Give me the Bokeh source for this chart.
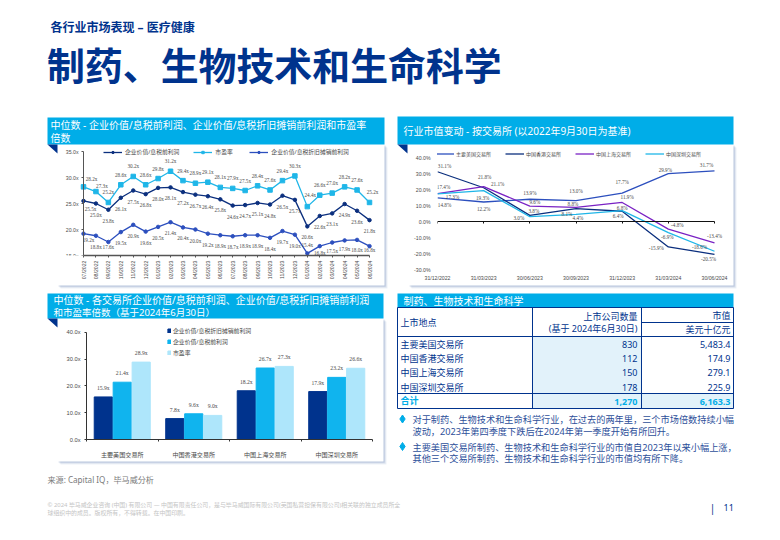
import math
from bokeh.core.properties import value
from bokeh.embed import file_html
from bokeh.resources import INLINE
from bokeh.layouts import column
from bokeh.models import (ColumnDataSource, FixedTicker, LabelSet, Legend, LegendItem,
                          LinearAxis, PrintfTickFormatter, Range1d)
from bokeh.plotting import figure

# ---------- data ----------
months = ["07/2022","08/2022","09/2022","10/2022","11/2022","12/2022","01/2023","02/2023","03/2023","04/2023","05/2023","06/2023",
          "07/2023","08/2023","09/2023","10/2023","11/2023","12/2023","01/2024","02/2024","03/2024","04/2024","05/2024","06/2024"]
pe_ratio = [28.2,27.3,25.2,28.6,30.2,28.6,29.8,31.2,29.4,28.9,29.1,28.1,27.9,27.5,28.4,27.6,29.4,30.3,24.4,26.6,27.0,28.2,27.6,25.2]
ev_ebit = [25.5,25.0,23.8,26.1,27.5,26.8,28.0,28.1,27.2,26.7,26.4,25.8,24.6,24.7,25.1,24.8,26.5,25.7,20.6,22.6,23.1,24.9,23.6,21.8]
ev_ebitda = [19.2,18.8,17.6,19.5,20.9,19.6,20.5,21.4,20.4,20.0,19.2,18.9,18.7,18.9,18.9,18.4,19.7,19.0,15.4,16.8,17.5,17.9,18.0,16.8]

quarters = ["31/12/2022","31/03/2023","30/06/2023","30/09/2023","31/12/2023","31/03/2024","30/06/2024"]
mv_us = [14.8,12.2,13.9,13.0,17.7,29.9,31.7]
mv_hk = [31.1,21.1,3.8,8.1,6.4,-15.9,-20.5]
mv_sh = [17.4,21.8,9.6,8.8,11.9,-4.8,-13.4]
mv_sz = [17.3,19.3,3.0,4.4,6.8,-6.9,-18.6]

exchanges = ["主要美国交易所","中国香港交易所","中国上海交易所","中国深圳交易所"]
ex_ebitda = [15.9,7.8,18.2,17.9]
ex_ebit = [21.4,9.6,26.7,23.2]
ex_pe = [28.9,9.0,27.3,26.6]

listed_count = ["830","112","150","178"]
market_cap = ["5,483.4","174.9","279.1","225.9"]
total_row = ["合计","1,270","6,163.3"]

NAME_EBITDA = "企业价值/息税折旧摊销前利润"
NAME_EBIT = "企业价值/息税前利润"
NAME_PE = "市盈率"

# ---------- styles ----------
CJK = "Noto Sans, Noto Sans CJK SC"
LAT = "Liberation Sans"
NAVY = "#00338D"
CYAN = "#00ADE8"
LIGHT = "#ABE4FA"
BLUE = "#2C4FBE"
PURPLE = "#7A22C4"
TXT = "#4A4A4A"

# ---------- background page, in reference pixels ----------
bg = figure(width=764, height=524, x_range=Range1d(0, 764), y_range=Range1d(524, 0),
            output_backend="svg", toolbar_location=None, min_border=0, outline_line_color=None,
            frame_align=False)
bg.axis.visible = False
bg.grid.visible = False


def txt(x, y, s, size, color=NAVY, align="left", bold=False, font=CJK):
    bg.text([x], [y], text=[s], text_font=value(font), text_font_size=f"{size}px", text_color=color,
            text_align=align, text_baseline="middle", text_font_style="bold" if bold else "normal")


def card(l, t, r, b):
    for off, a in ((3, .10), (2, .16), (1, .24)):
        bg.quad(left=[l + off], right=[r + off], top=[t + off], bottom=[b + off],
                fill_color="#5C7AAE", fill_alpha=a, line_color=None)
    bg.quad(left=[l], right=[r], top=[t], bottom=[b], fill_color="white", line_color=None)


def header(l, t, r, b, fold=True):
    bg.quad(left=[l], right=[r], top=[t], bottom=[b], fill_color=CYAN, line_color=None)
    if fold:
        bg.patch([l, l + 10, l + 10], [b, b, b + 9], fill_color=NAVY, line_color=None)


txt(50, 27, "各行业市场表现 – 医疗健康", 12, bold=True)
txt(46.5, 64.5, "制药、生物技术和生命科学", 37.9, bold=True)

card(57, 144, 384, 285)
header(47, 117, 384, 144)
txt(50, 124.5, "中位数 - 企业价值/息税前利润、企业价值/息税折旧摊销前利润和市盈率", 10, "white", bold=False)
txt(50, 137, "倍数", 10, "white")

card(408, 144, 733, 285)
header(397, 116, 733, 144)
txt(403, 130, "行业市值变动 - 按交易所 (以2022年9月30日为基准)", 10, "white")

card(57, 318, 383, 461)
header(47, 293, 383, 318)
txt(53, 299.5, "中位数 - 各交易所企业价值/息税前利润、企业价值/息税折旧摊销前利润", 10, "white")
txt(53, 311.5, "和市盈率倍数（基于2024年6月30日）", 9.5, "white")

# table
header(397, 293, 733, 307, fold=False)
txt(403, 300, "制药、生物技术和生命科学", 10, "white")
bg.quad(left=[532], right=[641], top=[336], bottom=[393], fill_color="#E2F2FA", line_color=None)
bg.quad(left=[532], right=[733], top=[393], bottom=[408], fill_color="#E2F2FA", line_color=None)
bg.multi_line([[397, 733, 733, 397, 397], [532, 532], [641, 641], [641, 733], [397, 733], [397, 733]],
              [[307, 307, 408, 408, 307], [307, 408], [307, 408], [322, 322], [336, 336], [393, 393]],
              line_color=NAVY, line_width=1)
txt(400, 322, "上市地点", 9)
txt(637, 316, "上市公司数量", 9, align="right")
txt(637, 328, "(基于 2024年6月30日)", 9, align="right")
txt(730, 315, "市值", 9, align="right")
txt(730, 329, "美元十亿元", 9, align="right")
for i, (name, n, cap) in enumerate(zip(exchanges, listed_count, market_cap)):
    yy = 344 + i * 14.2
    txt(400, yy, name, 9)
    txt(637, yy, n, 9, align="right")
    txt(730, yy, cap, 9, align="right")
txt(400, 400, total_row[0], 9, CYAN, bold=True)
txt(637, 401, total_row[1], 9, CYAN, "right", True)
txt(730, 401, total_row[2], 9, CYAN, "right", True)

bg.scatter([402, 402], [418.5, 446], marker="diamond", size=8, color=CYAN)
BODY = "#2D4F9A"
txt(412, 419, "对于制药、生物技术和生命科学行业，在过去的两年里，三个市场倍数持续小幅", 9.2, BODY)
txt(412, 430.5, "波动，2023年第四季度下跌后在2024年第一季度开始有所回升。", 9.2, BODY)
txt(412, 446.5, "主要美国交易所制药、生物技术和生命科学行业的市值自2023年以来小幅上涨，", 9.2, BODY)
txt(412, 458, "其他三个交易所制药、生物技术和生命科学行业的市值均有所下降。", 9.2, BODY)

txt(47, 479, "来源: Capital IQ，毕马威分析", 8.1, "#7A7A7A")
txt(47, 504.5, "© 2024 毕马威企业咨询 (中国) 有限公司 — 中国有限责任公司，是与毕马威国际有限公司(英国私营担保有限公司)相关联的独立成员所全", 5.9, "#C4C4C4")
txt(47, 512, "球组织中的成员。版权所有，不得转载。在中国印刷。", 5.9, "#C4C4C4")
txt(712, 507, "|", 10, NAVY, "center")
txt(723, 507, "11", 9, NAVY)


# ---------- chart helpers ----------
def chart(left, top, right, bottom, frame_l, frame_t, frame_r, frame_b, xr, yr):
    p = figure(width=right - left, height=bottom - top, x_range=Range1d(*xr), y_range=Range1d(*yr),
               output_backend="svg", toolbar_location=None, outline_line_color=None,
               min_border_left=frame_l - left, min_border_right=right - frame_r,
               min_border_top=frame_t - top, min_border_bottom=bottom - frame_b,
               background_fill_alpha=0, border_fill_alpha=0, frame_align=False,
               styles={"position": "absolute", "left": f"{left}px", "top": f"{top}px"})
    p.grid.visible = False
    return p


def labels(p, xs, vals, suffix, dx, dy, size=5.2):
    src = ColumnDataSource(dict(x=xs, y=vals, t=[f"{v:.1f}{suffix}" for v in vals], dx=dx,
                                dy=[-d for d in dy]))
    p.add_layout(LabelSet(x="x", y="y", text="t", source=src, x_offset="dx", y_offset="dy",
                          text_font=LAT, text_font_size=f"{size}px", text_color=TXT,
                          text_align="center", text_baseline="middle"))


def offsets(n, dx0, dy0, fixes):
    dx, dy = [dx0] * n, [dy0] * n
    for k, (a, b) in fixes.items():
        dx[k], dy[k] = a, b
    return dx, dy


# ---------- chart 1: monthly medians ----------
# the frame fills the card so that axis labels, markers, data labels and legend are not clipped
U1 = 286 / 23
V1 = 104 / 20
c1 = chart(57, 144, 384, 285, 57, 144, 384, 255, (-26 / U1, 23 + 15 / U1), (15, 35 + 7 / V1))
idx = list(range(len(months)))
c1.xaxis.ticker = FixedTicker(ticks=idx)
c1.xaxis.major_label_overrides = {i: m for i, m in zip(idx, months)}
c1.xaxis.major_label_orientation = math.pi / 2
c1.xaxis.bounds = (0, 23)
c1.yaxis.fixed_location = 0
c1.yaxis.bounds = (15, 35)
c1.yaxis.ticker = FixedTicker(ticks=[15, 20, 25, 30, 35])
c1.yaxis.formatter = PrintfTickFormatter(format="%.1fx")
for ax in (c1.xaxis, c1.yaxis):
    ax.axis_line_color = "#555555"
    ax.major_tick_line_color = "#555555"
    ax.minor_tick_line_color = None
    ax.major_tick_in = 0
    ax.major_tick_out = 2
    ax.major_label_standoff = 3
    ax.major_label_text_font = LAT
    ax.major_label_text_font_size = "5.2px"
    ax.major_label_text_color = TXT
c1.xaxis.axis_line_width = 1.5
c1.yaxis.axis_line_width = 1

r_ebit = [c1.line(idx, ev_ebit, color="#0B2F7E", line_width=1.3),
          c1.scatter(idx, ev_ebit, marker="circle", size=3.5, color="#0B2F7E")]
r_pe = [c1.line(idx, pe_ratio, color="#1FB6E8", line_width=1.3),
        c1.scatter(idx, pe_ratio, marker="square", size=4.5, color="#1FB6E8")]
r_da = [c1.line(idx, ev_ebitda, color=BLUE, line_width=1.3),
        c1.scatter(idx, ev_ebitda, marker="circle", size=3.5, color=BLUE)]
labels(c1, idx, pe_ratio, "x", *offsets(24, 0, -10, {0: (8, -8), 1: (6, -6), 18: (3, -12), 23: (3, -10)}))
labels(c1, idx, ev_ebit, "x", *offsets(24, 0, 11, {0: (7, 8)}))
labels(c1, idx, ev_ebitda, "x", *offsets(24, 0, 11, {0: (5, 6), 2: (0, 5), 18: (0, -8), 19: (0, 7), 20: (0, 8),
                                                    21: (0, 9), 22: (0, 10), 23: (0, 4)}))
c1.add_layout(Legend(items=[LegendItem(label=NAME_EBIT, renderers=r_ebit),
                            LegendItem(label=NAME_PE, renderers=r_pe),
                            LegendItem(label=NAME_EBITDA, renderers=r_da)],
                     location=(46, 99), orientation="horizontal", spacing=14, padding=0, margin=0,
                     glyph_width=19, glyph_height=6, label_height=6, label_standoff=3,
                     label_text_font=CJK, label_text_font_size="5.8px", label_text_color=TXT,
                     background_fill_alpha=0, border_line_color=None))

# ---------- chart 2: market value by exchange ----------
U2 = 277 / 6
V2 = 112 / 70
c2 = chart(408, 144, 733, 285, 437, 144, 733, 269, (0, 6 + 19 / U2), (-30, 40 + 13 / V2))
qi = list(range(len(quarters)))
c2.xaxis.ticker = FixedTicker(ticks=qi)
c2.xaxis.major_label_overrides = {i: q for i, q in zip(qi, quarters)}
c2.xaxis.axis_line_color = None
c2.xaxis.major_tick_line_color = None
c2.xaxis.major_tick_in = 0
c2.xaxis.major_tick_out = 0
c2.xaxis.minor_tick_line_color = None
c2.xaxis.major_label_standoff = 5
c2.yaxis.ticker = FixedTicker(ticks=[-30, -20, -10, 0, 10, 20, 30, 40])
c2.yaxis.bounds = (-30, 40)
c2.yaxis.formatter = PrintfTickFormatter(format="%.1f%%")
c2.yaxis.axis_line_color = None
c2.yaxis.major_tick_line_color = None
c2.yaxis.major_tick_in = 0
c2.yaxis.major_tick_out = 0
c2.yaxis.minor_tick_line_color = None
c2.yaxis.major_label_standoff = 7
for ax in (c2.xaxis, c2.yaxis):
    ax.major_label_text_font = LAT
    ax.major_label_text_font_size = "5.2px"
    ax.major_label_text_color = TXT
c2.add_layout(LinearAxis(fixed_location=0, bounds=(0, 6), ticker=FixedTicker(ticks=qi), axis_line_color="#111111",
                         major_tick_line_color="#111111", major_tick_in=0, major_tick_out=2,
                         minor_tick_line_color=None,
                         major_label_overrides={i: "" for i in qi}), "below")
r_us = c2.line(qi, mv_us, color=BLUE, line_width=1.3)
r_hk = c2.line(qi, mv_hk, color="#0B2F7E", line_width=1.3)
r_sh = c2.line(qi, mv_sh, color=PURPLE, line_width=1.3)
r_sz = c2.line(qi, mv_sz, color="#1FB6E8", line_width=1.3)
labels(c2, qi, mv_us, "%", [7, 0, 0, 0, 0, -3, -8], [7, 7, -6, -10, -11, -4, -6])
labels(c2, qi, mv_hk, "%", [7, 14, 4, -9, -4, -12, -6], [-6, -4, -4, 5, 5, 1, 5])
labels(c2, qi, mv_sh, "%", [6, 1, 5, -3, 5, 9, 0], [-7, -10, -4, -3, -5, -4, -7])
labels(c2, qi, mv_sz, "%", [15, -1, -11, 2, 0, -1, -15], [3, 7, 1, 4, -3, 4, -4])
c2.add_layout(Legend(items=[LegendItem(label=exchanges[0], renderers=[r_us]),
                            LegendItem(label=exchanges[1], renderers=[r_hk]),
                            LegendItem(label=exchanges[2], renderers=[r_sh]),
                            LegendItem(label=exchanges[3], renderers=[r_sz])],
                     location=(-2, 112), orientation="horizontal", spacing=14, padding=0, margin=0,
                     glyph_width=19, glyph_height=5, label_height=5, label_standoff=2,
                     label_text_font=CJK, label_text_font_size="5px", label_text_color=TXT,
                     background_fill_alpha=0, border_line_color=None))

# ---------- chart 3: multiples by exchange ----------
V3 = 108 / 40
c3 = chart(57, 318, 383, 461, 86, 318, 372, 440, (0, 4), (0, 40 + 14 / V3))
centres = [i + 0.5 for i in range(len(exchanges))]
c3.xaxis.ticker = FixedTicker(ticks=centres, minor_ticks=[0, 1, 2, 3, 4])
c3.xaxis.major_label_overrides = {c: e for c, e in zip(centres, exchanges)}
c3.xaxis.major_tick_line_color = None
c3.xaxis.major_tick_in = 0
c3.xaxis.major_tick_out = 0
c3.xaxis.minor_tick_line_color = "#333333"
c3.xaxis.minor_tick_in = 0
c3.xaxis.minor_tick_out = 2
c3.xaxis.axis_line_color = "#333333"
c3.xaxis.major_label_standoff = 8
c3.xaxis.major_label_text_font = CJK
c3.xaxis.major_label_text_font_size = "6.1px"
c3.xaxis.major_label_text_color = TXT
c3.yaxis.bounds = (0, 40)
c3.yaxis.ticker = FixedTicker(ticks=[0, 10, 20, 30, 40])
c3.yaxis.formatter = PrintfTickFormatter(format="%.1fx")
c3.yaxis.axis_line_color = "#333333"
c3.yaxis.major_tick_line_color = "#333333"
c3.yaxis.minor_tick_line_color = None
c3.yaxis.major_tick_in = 0
c3.yaxis.major_tick_out = 2
c3.yaxis.major_label_standoff = 4
c3.yaxis.major_label_text_font = LAT
c3.yaxis.major_label_text_font_size = "5.7px"
c3.yaxis.major_label_text_color = TXT
BW, STEP = 0.254, 0.265
rs = []
for k, (vals, col) in enumerate(((ex_ebitda, NAVY), (ex_ebit, "#10B4EE"), (ex_pe, "#AEE6FB"))):
    xs = [c + (k - 1) * STEP for c in centres]
    rs.append(c3.vbar(x=xs, top=vals, width=BW, color=col))
    labels(c3, xs, vals, "x", [0] * 4, [-9] * 4, size=5.7)
c3.add_layout(Legend(items=[LegendItem(label=NAME_EBITDA, renderers=[rs[0]]),
                            LegendItem(label=NAME_EBIT, renderers=[rs[1]]),
                            LegendItem(label=NAME_PE, renderers=[rs[2]])],
                     location=(81, 82), orientation="vertical", spacing=2, padding=0, margin=0,
                     glyph_width=4, glyph_height=5, label_height=5, label_standoff=2,
                     label_text_font=CJK, label_text_font_size="5.85px", label_text_color=TXT,
                     background_fill_alpha=0, border_line_color=None))

page = column(bg, c1, c2, c3, width=764, height=524, spacing=0, styles={"position": "relative"})
open("out.html", "w").write(file_html(page, INLINE))
